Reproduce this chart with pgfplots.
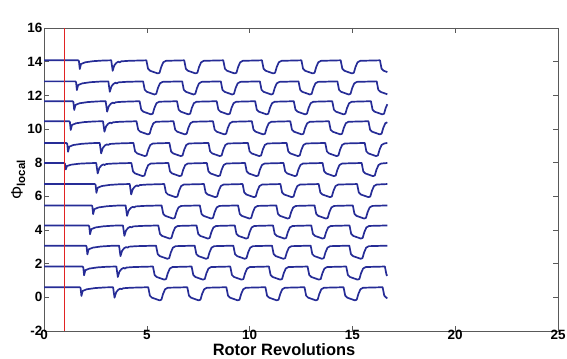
\documentclass[border=0pt]{standalone}
\usepackage{pgfplots}
\pgfplotsset{compat=1.18}
\usepackage{fontspec}
\setmainfont{Liberation Sans}
\definecolor{trace}{RGB}{38,44,150}
\definecolor{redline}{RGB}{225,35,35}
\begin{document}
\begin{tikzpicture}
\path[use as bounding box] (-44bp,-28bp) rectangle (523bp,331bp);
\begin{axis}[
 at={(0,0)}, anchor=south west,
 scale only axis, width=514bp, height=303bp,
 xmin=0, xmax=25, ymin=-2, ymax=16,
 xtick={0,5,...,25}, ytick={-2,0,...,16},
 tick align=inside, xtick pos=both, ytick pos=both,
 major tick length=5bp,
 axis line style={black!65, line width=0.6bp},
 every tick/.style={black!65, line width=0.6bp},
 /pgf/number format/assume math mode=true,
 xticklabel={\textbf{\pgfmathprintnumber{\tick}}},
 yticklabel={\textbf{\pgfmathprintnumber{\tick}}},
 tick label style={font=\bfseries\fontsize{13.5}{13.5}\selectfont},
 yticklabel style={inner sep=1.5bp},
 xticklabel style={inner sep=1.5bp, yshift=2.5bp},
 xlabel={\bfseries Rotor Revolutions},
 ylabel={Φ\textsubscript{\bfseries local}},
 label style={font=\fontsize{16.5}{16.5}\selectfont},
 xlabel style={at={(axis description cs:0.467,0)}, anchor=north, inner sep=0pt, yshift=-12bp},
 ylabel style={yshift=-3bp},
 mytrace/.style={trace, line width=1.7bp, line join=round, mark=none},
]
% trace baseline 0.60
\addplot[mytrace] coordinates {(0,0.60)(1.74,0.60)(1.78,0.55)(1.82,0.08)(1.88,0.38)(2.08,0.48)(2.48,0.55)(2.98,0.59)
(3.36,0.60)(3.43,-0.02)(3.51,0.30)(3.61,0.45)(3.71,0.52)(3.77,0.48)(3.85,0.54)(4.21,0.57)
(5.07,0.60)(5.15,0.10)(5.25,-0.02)(5.62,-0.18)(5.71,-0.14)(5.79,0.20)(5.89,0.48)(6.02,0.57)
(6.97,0.60)(7.05,0.10)(7.15,-0.02)(7.52,-0.18)(7.61,-0.14)(7.69,0.20)(7.79,0.48)(7.92,0.57)
(8.87,0.60)(8.95,0.10)(9.05,-0.02)(9.42,-0.18)(9.51,-0.14)(9.59,0.20)(9.69,0.48)(9.82,0.57)
(10.77,0.60)(10.85,0.10)(10.95,-0.02)(11.32,-0.18)(11.41,-0.14)(11.49,0.20)(11.59,0.48)(11.72,0.57)
(12.67,0.60)(12.75,0.10)(12.85,-0.02)(13.22,-0.18)(13.31,-0.14)(13.39,0.20)(13.49,0.48)(13.62,0.57)
(14.57,0.60)(14.65,0.10)(14.75,-0.02)(15.12,-0.18)(15.21,-0.14)(15.29,0.20)(15.39,0.48)(15.52,0.57)
(16.47,0.60)(16.55,0.10)(16.65,-0.02)(16.70,-0.06)};
% trace baseline 1.83
\addplot[mytrace] coordinates {(0,1.83)(1.87,1.83)(1.91,1.78)(1.95,1.31)(2.01,1.61)(2.21,1.71)(2.61,1.78)(3.11,1.82)
(3.52,1.83)(3.59,1.21)(3.67,1.53)(3.77,1.68)(3.87,1.75)(3.93,1.71)(4.01,1.77)(4.37,1.80)
(5.30,1.83)(5.38,1.33)(5.48,1.21)(5.85,1.05)(5.94,1.09)(6.02,1.43)(6.12,1.71)(6.25,1.80)
(7.18,1.83)(7.26,1.33)(7.36,1.21)(7.73,1.05)(7.82,1.09)(7.90,1.43)(8.00,1.71)(8.13,1.80)
(9.06,1.83)(9.14,1.33)(9.24,1.21)(9.61,1.05)(9.70,1.09)(9.78,1.43)(9.88,1.71)(10.01,1.80)
(10.94,1.83)(11.02,1.33)(11.12,1.21)(11.49,1.05)(11.58,1.09)(11.66,1.43)(11.76,1.71)(11.89,1.80)
(12.82,1.83)(12.90,1.33)(13.00,1.21)(13.37,1.05)(13.46,1.09)(13.54,1.43)(13.64,1.71)(13.77,1.80)
(14.70,1.83)(14.78,1.33)(14.88,1.21)(15.25,1.05)(15.34,1.09)(15.42,1.43)(15.52,1.71)(15.65,1.80)
(16.58,1.83)(16.66,1.33)(16.70,1.28)};
% trace baseline 3.07
\addplot[mytrace] coordinates {(0,3.07)(2.03,3.07)(2.07,3.02)(2.11,2.55)(2.17,2.85)(2.37,2.95)(2.77,3.02)(3.27,3.06)
(3.65,3.07)(3.72,2.45)(3.80,2.77)(3.90,2.92)(4.00,2.99)(4.06,2.95)(4.14,3.01)(4.50,3.04)
(5.45,3.07)(5.53,2.57)(5.63,2.45)(6.00,2.29)(6.09,2.33)(6.17,2.67)(6.27,2.95)(6.40,3.04)
(7.33,3.07)(7.41,2.57)(7.51,2.45)(7.88,2.29)(7.97,2.33)(8.05,2.67)(8.15,2.95)(8.28,3.04)
(9.21,3.07)(9.29,2.57)(9.39,2.45)(9.76,2.29)(9.85,2.33)(9.93,2.67)(10.03,2.95)(10.16,3.04)
(11.09,3.07)(11.17,2.57)(11.27,2.45)(11.64,2.29)(11.73,2.33)(11.81,2.67)(11.91,2.95)(12.04,3.04)
(12.97,3.07)(13.05,2.57)(13.15,2.45)(13.52,2.29)(13.61,2.33)(13.69,2.67)(13.79,2.95)(13.92,3.04)
(14.85,3.07)(14.93,2.57)(15.03,2.45)(15.40,2.29)(15.49,2.33)(15.57,2.67)(15.67,2.95)(15.80,3.04)
(16.70,3.07)};
% trace baseline 4.27
\addplot[mytrace] coordinates {(0,4.27)(2.16,4.27)(2.20,4.22)(2.24,3.75)(2.30,4.05)(2.50,4.15)(2.90,4.22)(3.40,4.26)
(3.84,4.27)(3.91,3.65)(3.99,3.97)(4.09,4.12)(4.19,4.19)(4.25,4.15)(4.33,4.21)(4.69,4.24)
(5.56,4.27)(5.64,3.77)(5.74,3.65)(6.11,3.49)(6.20,3.53)(6.28,3.87)(6.38,4.15)(6.51,4.24)
(7.42,4.27)(7.50,3.77)(7.60,3.65)(7.97,3.49)(8.06,3.53)(8.14,3.87)(8.24,4.15)(8.37,4.24)
(9.28,4.27)(9.36,3.77)(9.46,3.65)(9.83,3.49)(9.92,3.53)(10.00,3.87)(10.10,4.15)(10.23,4.24)
(11.14,4.27)(11.22,3.77)(11.32,3.65)(11.69,3.49)(11.78,3.53)(11.86,3.87)(11.96,4.15)(12.09,4.24)
(13.00,4.27)(13.08,3.77)(13.18,3.65)(13.55,3.49)(13.64,3.53)(13.72,3.87)(13.82,4.15)(13.95,4.24)
(14.86,4.27)(14.94,3.77)(15.04,3.65)(15.41,3.49)(15.50,3.53)(15.58,3.87)(15.68,4.15)(15.81,4.24)
(16.70,4.27)};
% trace baseline 5.46
\addplot[mytrace] coordinates {(0,5.46)(2.31,5.46)(2.35,5.41)(2.39,4.94)(2.45,5.24)(2.65,5.34)(3.05,5.41)(3.55,5.45)
(3.97,5.46)(4.04,4.84)(4.12,5.16)(4.22,5.31)(4.32,5.38)(4.38,5.34)(4.46,5.40)(4.82,5.43)
(5.72,5.46)(5.80,4.96)(5.90,4.84)(6.27,4.68)(6.36,4.72)(6.44,5.06)(6.54,5.34)(6.67,5.43)
(7.58,5.46)(7.66,4.96)(7.76,4.84)(8.13,4.68)(8.22,4.72)(8.30,5.06)(8.40,5.34)(8.53,5.43)
(9.44,5.46)(9.52,4.96)(9.62,4.84)(9.99,4.68)(10.08,4.72)(10.16,5.06)(10.26,5.34)(10.39,5.43)
(11.30,5.46)(11.38,4.96)(11.48,4.84)(11.85,4.68)(11.94,4.72)(12.02,5.06)(12.12,5.34)(12.25,5.43)
(13.16,5.46)(13.24,4.96)(13.34,4.84)(13.71,4.68)(13.80,4.72)(13.88,5.06)(13.98,5.34)(14.11,5.43)
(15.02,5.46)(15.10,4.96)(15.20,4.84)(15.57,4.68)(15.66,4.72)(15.74,5.06)(15.84,5.34)(15.97,5.43)
(16.70,5.46)};
% trace baseline 6.73
\addplot[mytrace] coordinates {(0,6.73)(2.47,6.73)(2.51,6.68)(2.55,6.21)(2.61,6.51)(2.81,6.61)(3.21,6.68)(3.71,6.72)
(4.17,6.73)(4.24,6.11)(4.32,6.43)(4.42,6.58)(4.52,6.65)(4.58,6.61)(4.66,6.67)(5.02,6.70)
(5.85,6.73)(5.93,6.23)(6.03,6.11)(6.40,5.95)(6.49,5.99)(6.57,6.33)(6.67,6.61)(6.80,6.70)
(7.78,6.73)(7.86,6.23)(7.96,6.11)(8.33,5.95)(8.42,5.99)(8.50,6.33)(8.60,6.61)(8.73,6.70)
(9.66,6.73)(9.74,6.23)(9.84,6.11)(10.21,5.95)(10.30,5.99)(10.38,6.33)(10.48,6.61)(10.61,6.70)
(11.50,6.73)(11.58,6.23)(11.68,6.11)(12.05,5.95)(12.14,5.99)(12.22,6.33)(12.32,6.61)(12.45,6.70)
(13.36,6.73)(13.44,6.23)(13.54,6.11)(13.91,5.95)(14.00,5.99)(14.08,6.33)(14.18,6.61)(14.31,6.70)
(15.23,6.73)(15.31,6.23)(15.41,6.11)(15.78,5.95)(15.87,5.99)(15.95,6.33)(16.05,6.61)(16.18,6.70)
(16.70,6.73)};
% trace baseline 7.98
\addplot[mytrace] coordinates {(0,7.98)(0.98,7.98)(1.02,7.93)(1.06,7.60)(1.12,7.80)(1.32,7.88)(1.72,7.94)(2.22,7.97)
(2.54,7.98)(2.61,7.36)(2.69,7.68)(2.79,7.83)(2.89,7.90)(2.95,7.86)(3.03,7.92)(3.39,7.95)
(4.25,7.98)(4.33,7.48)(4.43,7.36)(4.80,7.20)(4.89,7.24)(4.97,7.58)(5.07,7.86)(5.20,7.95)
(6.05,7.98)(6.13,7.48)(6.23,7.36)(6.60,7.20)(6.69,7.24)(6.77,7.58)(6.87,7.86)(7.00,7.95)
(7.92,7.98)(8.00,7.48)(8.10,7.36)(8.47,7.20)(8.56,7.24)(8.64,7.58)(8.74,7.86)(8.87,7.95)
(9.78,7.98)(9.86,7.48)(9.96,7.36)(10.33,7.20)(10.42,7.24)(10.50,7.58)(10.60,7.86)(10.73,7.95)
(11.65,7.98)(11.73,7.48)(11.83,7.36)(12.20,7.20)(12.29,7.24)(12.37,7.58)(12.47,7.86)(12.60,7.95)
(13.55,7.98)(13.63,7.48)(13.73,7.36)(14.10,7.20)(14.19,7.24)(14.27,7.58)(14.37,7.86)(14.50,7.95)
(15.45,7.98)(15.53,7.48)(15.63,7.36)(16.00,7.20)(16.09,7.24)(16.17,7.58)(16.27,7.86)(16.40,7.95)
(16.70,7.98)};
% trace baseline 9.17
\addplot[mytrace] coordinates {(0,9.17)(1.09,9.17)(1.13,9.12)(1.17,8.65)(1.23,8.95)(1.43,9.05)(1.83,9.12)(2.33,9.16)
(2.71,9.17)(2.78,8.55)(2.86,8.87)(2.96,9.02)(3.06,9.09)(3.12,9.05)(3.20,9.11)(3.56,9.14)
(4.35,9.17)(4.43,8.67)(4.53,8.55)(4.90,8.39)(4.99,8.43)(5.07,8.77)(5.17,9.05)(5.30,9.14)
(6.10,9.17)(6.18,8.67)(6.28,8.55)(6.65,8.39)(6.74,8.43)(6.82,8.77)(6.92,9.05)(7.05,9.14)
(8.00,9.17)(8.08,8.67)(8.18,8.55)(8.55,8.39)(8.64,8.43)(8.72,8.77)(8.82,9.05)(8.95,9.14)
(9.92,9.17)(10.00,8.67)(10.10,8.55)(10.47,8.39)(10.56,8.43)(10.64,8.77)(10.74,9.05)(10.87,9.14)
(11.80,9.17)(11.88,8.67)(11.98,8.55)(12.35,8.39)(12.44,8.43)(12.52,8.77)(12.62,9.05)(12.75,9.14)
(13.68,9.17)(13.76,8.67)(13.86,8.55)(14.23,8.39)(14.32,8.43)(14.40,8.77)(14.50,9.05)(14.63,9.14)
(15.60,9.17)(15.68,8.67)(15.78,8.55)(16.15,8.39)(16.24,8.43)(16.32,8.77)(16.42,9.05)(16.55,9.14)
(16.70,9.17)};
% trace baseline 10.46
\addplot[mytrace] coordinates {(0,10.46)(1.22,10.46)(1.26,10.41)(1.30,9.94)(1.36,10.24)(1.56,10.34)(1.96,10.41)(2.46,10.45)
(2.87,10.46)(2.94,9.84)(3.02,10.16)(3.12,10.31)(3.22,10.38)(3.28,10.34)(3.36,10.40)(3.72,10.43)
(4.50,10.46)(4.58,9.96)(4.68,9.84)(5.05,9.68)(5.14,9.72)(5.22,10.06)(5.32,10.34)(5.45,10.43)
(6.30,10.46)(6.38,9.96)(6.48,9.84)(6.85,9.68)(6.94,9.72)(7.02,10.06)(7.12,10.34)(7.25,10.43)
(8.22,10.46)(8.30,9.96)(8.40,9.84)(8.77,9.68)(8.86,9.72)(8.94,10.06)(9.04,10.34)(9.17,10.43)
(10.11,10.46)(10.19,9.96)(10.29,9.84)(10.66,9.68)(10.75,9.72)(10.83,10.06)(10.93,10.34)(11.06,10.43)
(11.98,10.46)(12.06,9.96)(12.16,9.84)(12.53,9.68)(12.62,9.72)(12.70,10.06)(12.80,10.34)(12.93,10.43)
(13.86,10.46)(13.94,9.96)(14.04,9.84)(14.41,9.68)(14.50,9.72)(14.58,10.06)(14.68,10.34)(14.81,10.43)
(15.78,10.46)(15.86,9.96)(15.96,9.84)(16.33,9.68)(16.42,9.72)(16.50,10.06)(16.60,10.34)(16.70,10.40)};
% trace baseline 11.65
\addplot[mytrace] coordinates {(0,11.65)(1.39,11.65)(1.43,11.60)(1.47,11.13)(1.53,11.43)(1.73,11.53)(2.13,11.60)(2.63,11.64)
(3.00,11.65)(3.07,11.03)(3.15,11.35)(3.25,11.50)(3.35,11.57)(3.41,11.53)(3.49,11.59)(3.85,11.62)
(4.65,11.65)(4.73,11.15)(4.83,11.03)(5.20,10.87)(5.29,10.91)(5.37,11.25)(5.47,11.53)(5.60,11.62)
(6.47,11.65)(6.55,11.15)(6.65,11.03)(7.02,10.87)(7.11,10.91)(7.19,11.25)(7.29,11.53)(7.42,11.62)
(8.40,11.65)(8.48,11.15)(8.58,11.03)(8.95,10.87)(9.04,10.91)(9.12,11.25)(9.22,11.53)(9.35,11.62)
(10.27,11.65)(10.35,11.15)(10.45,11.03)(10.82,10.87)(10.91,10.91)(10.99,11.25)(11.09,11.53)(11.22,11.62)
(12.15,11.65)(12.23,11.15)(12.33,11.03)(12.70,10.87)(12.79,10.91)(12.87,11.25)(12.97,11.53)(13.10,11.62)
(14.02,11.65)(14.10,11.15)(14.20,11.03)(14.57,10.87)(14.66,10.91)(14.74,11.25)(14.84,11.53)(14.97,11.62)
(15.90,11.65)(15.98,11.15)(16.08,11.03)(16.45,10.87)(16.54,10.91)(16.62,11.25)(16.70,11.47)};
% trace baseline 12.83
\addplot[mytrace] coordinates {(0,12.83)(1.52,12.83)(1.56,12.78)(1.60,12.31)(1.66,12.61)(1.86,12.71)(2.26,12.78)(2.76,12.82)
(3.13,12.83)(3.20,12.21)(3.28,12.53)(3.38,12.68)(3.48,12.75)(3.54,12.71)(3.62,12.77)(3.98,12.80)
(4.82,12.83)(4.90,12.33)(5.00,12.21)(5.37,12.05)(5.46,12.09)(5.54,12.43)(5.64,12.71)(5.77,12.80)
(6.72,12.83)(6.80,12.33)(6.90,12.21)(7.27,12.05)(7.36,12.09)(7.44,12.43)(7.54,12.71)(7.67,12.80)
(8.60,12.83)(8.68,12.33)(8.78,12.21)(9.15,12.05)(9.24,12.09)(9.32,12.43)(9.42,12.71)(9.55,12.80)
(10.50,12.83)(10.58,12.33)(10.68,12.21)(11.05,12.05)(11.14,12.09)(11.22,12.43)(11.32,12.71)(11.45,12.80)
(12.38,12.83)(12.46,12.33)(12.56,12.21)(12.93,12.05)(13.02,12.09)(13.10,12.43)(13.20,12.71)(13.33,12.80)
(14.27,12.83)(14.35,12.33)(14.45,12.21)(14.82,12.05)(14.91,12.09)(14.99,12.43)(15.09,12.71)(15.22,12.80)
(16.18,12.83)(16.26,12.33)(16.36,12.21)(16.70,12.06)};
% trace baseline 14.08
\addplot[mytrace] coordinates {(0,14.08)(1.66,14.08)(1.70,14.03)(1.74,13.56)(1.80,13.86)(2.00,13.96)(2.40,14.03)(2.90,14.07)
(3.27,14.08)(3.34,13.46)(3.42,13.78)(3.52,13.93)(3.62,14.00)(3.68,13.96)(3.76,14.02)(4.12,14.05)
(4.98,14.08)(5.06,13.58)(5.16,13.46)(5.53,13.30)(5.62,13.34)(5.70,13.68)(5.80,13.96)(5.93,14.05)
(6.82,14.08)(6.90,13.58)(7.00,13.46)(7.37,13.30)(7.46,13.34)(7.54,13.68)(7.64,13.96)(7.77,14.05)
(8.72,14.08)(8.80,13.58)(8.90,13.46)(9.27,13.30)(9.36,13.34)(9.44,13.68)(9.54,13.96)(9.67,14.05)
(10.60,14.08)(10.68,13.58)(10.78,13.46)(11.15,13.30)(11.24,13.34)(11.32,13.68)(11.42,13.96)(11.55,14.05)
(12.52,14.08)(12.60,13.58)(12.70,13.46)(13.07,13.30)(13.16,13.34)(13.24,13.68)(13.34,13.96)(13.47,14.05)
(14.43,14.08)(14.51,13.58)(14.61,13.46)(14.98,13.30)(15.07,13.34)(15.15,13.68)(15.25,13.96)(15.38,14.05)
(16.34,14.08)(16.42,13.58)(16.52,13.46)(16.70,13.38)};
% red marker line at one revolution
\addplot[redline, line width=1.3bp] coordinates {(1,-2)(1,16)};
\end{axis}
\end{tikzpicture}
\end{document}
